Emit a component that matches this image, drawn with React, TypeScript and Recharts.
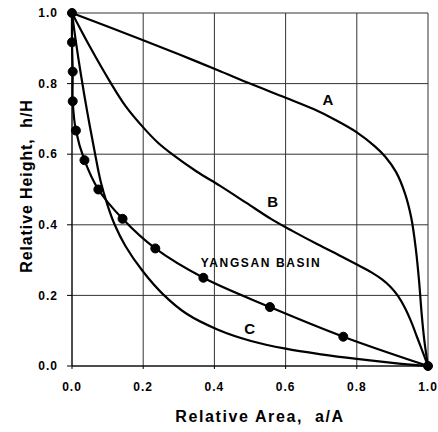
import React from "react";
import { LineChart, Line, XAxis, YAxis, CartesianGrid, ReferenceDot, Label } from "recharts";

const curveA = [
  { x: 0, y: 1.0 }, { x: 0.1, y: 0.962 }, { x: 0.2, y: 0.923 }, { x: 0.3, y: 0.883 },
  { x: 0.41, y: 0.838 }, { x: 0.5, y: 0.8 }, { x: 0.6, y: 0.76 }, { x: 0.68, y: 0.727 },
  { x: 0.74, y: 0.697 }, { x: 0.8, y: 0.662 }, { x: 0.85, y: 0.623 }, { x: 0.88, y: 0.593 },
  { x: 0.91, y: 0.55 }, { x: 0.935, y: 0.49 }, { x: 0.953, y: 0.42 }, { x: 0.966, y: 0.33 },
  { x: 0.975, y: 0.24 }, { x: 0.982, y: 0.15 }, { x: 0.99, y: 0.07 }, { x: 1.0, y: 0.0 },
];
const curveB = [
  { x: 0, y: 1.0 }, { x: 0.05, y: 0.905 }, { x: 0.107, y: 0.805 }, { x: 0.15, y: 0.737 },
  { x: 0.2, y: 0.676 }, { x: 0.24, y: 0.634 }, { x: 0.284, y: 0.598 }, { x: 0.35, y: 0.551 },
  { x: 0.415, y: 0.511 }, { x: 0.49, y: 0.462 }, { x: 0.56, y: 0.416 }, { x: 0.62, y: 0.382 },
  { x: 0.691, y: 0.344 }, { x: 0.75, y: 0.314 }, { x: 0.803, y: 0.286 }, { x: 0.84, y: 0.266 },
  { x: 0.87, y: 0.246 }, { x: 0.895, y: 0.224 }, { x: 0.916, y: 0.198 }, { x: 0.935, y: 0.165 },
  { x: 0.953, y: 0.125 }, { x: 0.97, y: 0.08 }, { x: 0.985, y: 0.04 }, { x: 1.0, y: 0.0 },
];
const curveC = [
  { x: 0, y: 1.0 }, { x: 0.01, y: 0.925 }, { x: 0.022, y: 0.845 }, { x: 0.035, y: 0.765 },
  { x: 0.05, y: 0.68 }, { x: 0.065, y: 0.6 }, { x: 0.08, y: 0.525 }, { x: 0.1, y: 0.455 },
  { x: 0.12, y: 0.4 }, { x: 0.15, y: 0.34 }, { x: 0.2, y: 0.267 }, { x: 0.256, y: 0.203 },
  { x: 0.322, y: 0.148 }, { x: 0.41, y: 0.103 }, { x: 0.503, y: 0.071 }, { x: 0.6, y: 0.049 },
  { x: 0.7, y: 0.033 }, { x: 0.8, y: 0.02 }, { x: 0.9, y: 0.009 }, { x: 1.0, y: 0.0 },
];
const yangsan = [
  { x: 0, y: 1.0 }, { x: 0, y: 0.917 }, { x: 0.002, y: 0.834 }, { x: 0.002, y: 0.75 },
  { x: 0.011, y: 0.667 }, { x: 0.035, y: 0.583 }, { x: 0.074, y: 0.5 }, { x: 0.142, y: 0.417 },
  { x: 0.234, y: 0.333 }, { x: 0.369, y: 0.25 }, { x: 0.556, y: 0.167 }, { x: 0.762, y: 0.083 },
  { x: 1.0, y: 0.0 },
];
const ticks = [0, 0.2, 0.4, 0.6, 0.8, 1.0];
const annotations = [
  { x: 0.719, y: 0.754, text: "A", size: 15, spacing: 0 },
  { x: 0.564, y: 0.466, text: "B", size: 15, spacing: 0 },
  { x: 0.499, y: 0.106, text: "C", size: 15, spacing: 0 },
  { x: 0.531, y: 0.292, text: "YANGSAN BASIN", size: 12, spacing: 1.6 },
];
const xTitle = "Relative Area,\u00a0 a/A";
const yTitle = "Relative Height,\u00a0 h/H";

const FONT = "'Liberation Sans', Arial, sans-serif";

// centripetal Catmull-Rom curve (alpha = 0.5), same algorithm as d3's curveCatmullRom
function catmullRom(context: any) {
  const alpha = 0.5;
  const eps = 1e-12;
  const s: any = {};
  const seg = (x: number, y: number) => {
    let x1 = s.x1, y1 = s.y1, x2 = s.x2, y2 = s.y2;
    if (s.l01_a > eps) {
      const a = 2 * s.l01_2a + 3 * s.l01_a * s.l12_a + s.l12_2a;
      const n = 3 * s.l01_a * (s.l01_a + s.l12_a);
      x1 = (x1 * a - s.x0 * s.l12_2a + s.x2 * s.l01_2a) / n;
      y1 = (y1 * a - s.y0 * s.l12_2a + s.y2 * s.l01_2a) / n;
    }
    if (s.l23_a > eps) {
      const b = 2 * s.l23_2a + 3 * s.l23_a * s.l12_a + s.l12_2a;
      const m = 3 * s.l23_a * (s.l23_a + s.l12_a);
      x2 = (x2 * b + s.x1 * s.l23_2a - x * s.l12_2a) / m;
      y2 = (y2 * b + s.y1 * s.l23_2a - y * s.l12_2a) / m;
    }
    context.bezierCurveTo(x1, y1, x2, y2, s.x2, s.y2);
  };
  const curve: any = {
    areaStart() { s.line = 0; },
    areaEnd() { s.line = NaN; },
    lineStart() {
      s.x0 = s.x1 = s.x2 = s.y0 = s.y1 = s.y2 = NaN;
      s.l01_a = s.l12_a = s.l23_a = s.l01_2a = s.l12_2a = s.l23_2a = s.point = 0;
    },
    lineEnd() {
      switch (s.point) {
        case 2: context.lineTo(s.x2, s.y2); break;
        case 3: curve.point(s.x2, s.y2); break;
      }
      if (s.line || (s.line !== 0 && s.point === 1)) context.closePath();
      s.line = 1 - s.line;
    },
    point(x: number, y: number) {
      x = +x; y = +y;
      if (s.point) {
        const x23 = s.x2 - x, y23 = s.y2 - y;
        s.l23_2a = Math.pow(x23 * x23 + y23 * y23, alpha);
        s.l23_a = Math.sqrt(s.l23_2a);
      }
      switch (s.point) {
        case 0: s.point = 1; s.line ? context.lineTo(x, y) : context.moveTo(x, y); break;
        case 1: s.point = 2; break;
        case 2: s.point = 3; seg(x, y); break;
        default: seg(x, y); break;
      }
      s.l01_a = s.l12_a; s.l12_a = s.l23_a;
      s.l01_2a = s.l12_2a; s.l12_2a = s.l23_2a;
      s.x0 = s.x1; s.x1 = s.x2; s.x2 = x;
      s.y0 = s.y1; s.y1 = s.y2; s.y2 = y;
    },
  };
  return curve;
}

export default function App() {
  const tickStyle = { fontFamily: FONT, fontWeight: 700, fontSize: 12, fill: "#000", letterSpacing: 1 };
  return (
    <div style={{ position: "absolute", left: 0, top: 0, background: "#fff" }}>
      <LineChart width={438} height={432} margin={{ top: 13, right: 10, bottom: 0, left: 0 }}>
        <CartesianGrid stroke="#333" strokeWidth={1} horizontal vertical
          horizontalValues={ticks} verticalValues={ticks} />
        <XAxis dataKey="x" type="number" domain={[0, 1]} ticks={ticks} height={66}
          tickFormatter={(v: number) => v.toFixed(1)} tick={tickStyle}
          tickSize={3} tickMargin={13} stroke="#000" allowDuplicatedCategory={false}>
          <Label content={() => (
            <text x={260} y={422} textAnchor="middle" fontFamily={FONT} fontWeight={700}
              fontSize={16} letterSpacing={1.6} fill="#000">{xTitle}</text>
          )} />
        </XAxis>
        <YAxis dataKey="y" type="number" domain={[0, 1]} ticks={ticks} width={72}
          tickFormatter={(v: number) => v.toFixed(1)} tick={tickStyle}
          tickSize={5} tickMargin={9} stroke="#000">
          <Label content={() => (
            <text x={32} y={186} transform="rotate(-90 32 186)" textAnchor="middle" fontFamily={FONT}
              fontWeight={700} fontSize={16} letterSpacing={0.9} fill="#000">{yTitle}</text>
          )} />
        </YAxis>
        <Line data={curveA} dataKey="y" type={catmullRom as any} stroke="#000" strokeWidth={2.2} dot={false} isAnimationActive={false} />
        <Line data={curveB} dataKey="y" type={catmullRom as any} stroke="#000" strokeWidth={2.2} dot={false} isAnimationActive={false} />
        <Line data={curveC} dataKey="y" type={catmullRom as any} stroke="#000" strokeWidth={2.2} dot={false} isAnimationActive={false} />
        <Line data={yangsan} dataKey="y" type={catmullRom as any} stroke="#000" strokeWidth={2.2}
          dot={{ r: 4.5, fill: "#000", stroke: "#000", strokeWidth: 1 }} isAnimationActive={false} />
        {annotations.map((a) => (
          <ReferenceDot key={a.text} x={a.x} y={a.y} r={0} stroke="none" fill="none"
            label={(p: any) => {
              const vb = p.viewBox || {};
              const cx = (vb.x ?? 0) + (vb.width ?? 0) / 2;
              const cy = (vb.y ?? 0) + (vb.height ?? 0) / 2;
              return (
                <text x={cx} y={cy} dy="0.36em" textAnchor="middle" fontFamily={FONT} fontWeight={700}
                  fontSize={a.size} letterSpacing={a.spacing} fill="#000">{a.text}</text>
              );
            }} />
        ))}
      </LineChart>
    </div>
  );
}
